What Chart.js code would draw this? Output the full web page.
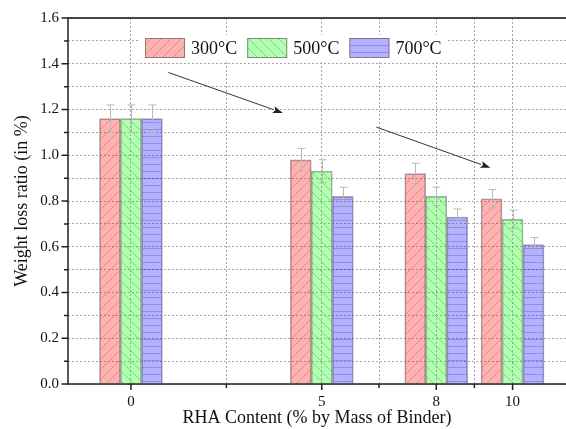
<!DOCTYPE html>
<html><head><meta charset="utf-8">
<script src="https://cdn.jsdelivr.net/npm/chart.js@4/dist/chart.umd.min.js"></script>
<style>html,body{margin:0;padding:0;background:#fff}</style>
</head><body>
<canvas id="c" width="566" height="429"></canvas>
<script>
// ---- data ----
const rhaContent = [0, 5, 8, 10];
const seriesNames = ['300°C', '500°C', '700°C'];
const loss300 = [1.16, 0.98, 0.92, 0.81];
const loss500 = [1.16, 0.93, 0.82, 0.72];
const loss700 = [1.16, 0.82, 0.73, 0.61];
const err300 = [0.06, 0.05, 0.045, 0.04];
const err500 = [0.06, 0.05, 0.04, 0.04];
const err700 = [0.06, 0.04, 0.035, 0.03];
const xMajorTicks = [0, 5, 8, 10];
const xMinorTicks = [2.5, 6.5, 9];
const yTickValues = [0, 0.1, 0.2, 0.3, 0.4, 0.5, 0.6, 0.7, 0.8, 0.9, 1.0, 1.1, 1.2, 1.3, 1.4, 1.5, 1.6];
const yMajorTicks = [0, 0.2, 0.4, 0.6, 0.8, 1.0, 1.2, 1.4, 1.6];
const trendArrowsFrom = [[0.98, 1.362], [6.43, 1.123]];
const trendArrowsTo = [[3.98, 1.185], [9.42, 0.945]];

const SERIF = '"Liberation Serif", "Times New Roman", serif';

function makePattern(fill, line, kind) {
  const s = kind === 'h' ? 7 : 10;
  const c = document.createElement('canvas');
  c.width = s; c.height = s;
  const g = c.getContext('2d');
  g.fillStyle = fill; g.fillRect(0, 0, s, s);
  g.strokeStyle = line; g.lineWidth = 1;
  g.beginPath();
  if (kind === '/') {
    g.moveTo(-1, s + 1); g.lineTo(s + 1, -1);
    g.moveTo(-1, 1); g.lineTo(1, -1);
    g.moveTo(s - 1, s + 1); g.lineTo(s + 1, s - 1);
  } else if (kind === '\\') {
    g.moveTo(-1, -1); g.lineTo(s + 1, s + 1);
    g.moveTo(s - 1, -1); g.lineTo(s + 1, 1);
    g.moveTo(-1, s - 1); g.lineTo(1, s + 1);
  } else {
    g.moveTo(0, 3.5); g.lineTo(s, 3.5);
  }
  g.stroke();
  return g.createPattern(c, 'repeat');
}
const patterns = [
  makePattern('rgba(255,0,0,0.3)', 'rgba(190,40,40,0.3)', '/'),
  makePattern('rgba(0,255,0,0.3)', 'rgba(40,140,40,0.35)', '\\'),
  makePattern('rgba(0,0,255,0.3)', 'rgba(60,60,190,0.3)', 'h')
];
const values = [loss300, loss500, loss700];
const errors = [err300, err500, err700];

const datasets = values.map((vals, k) => ({
  label: seriesNames[k],
  data: rhaContent.map((x, i) => ({ x: x, y: vals[i] })),
  backgroundColor: patterns[k],
  borderColor: 'rgba(100,100,100,0.55)',
  borderWidth: 1,
  barThickness: 21,
  errs: errors[k]
}));

const errorBarPlugin = {
  id: 'errorBars',
  afterDatasetsDraw(chart) {
    const ctx = chart.ctx, y = chart.scales.y;
    ctx.save();
    ctx.strokeStyle = '#b8b8b8';
    ctx.lineWidth = 1;
    chart.data.datasets.forEach((ds, k) => {
      const meta = chart.getDatasetMeta(k);
      meta.data.forEach((bar, i) => {
        const v = ds.data[i].y, e = ds.errs[i];
        const x = Math.round(bar.x) + 0.5;
        const yt = y.getPixelForValue(v + e), yb = y.getPixelForValue(v - e);
        ctx.beginPath();
        ctx.moveTo(x, yt); ctx.lineTo(x, yb);
        ctx.moveTo(x - 4, yt); ctx.lineTo(x + 4, yt);
        ctx.moveTo(x - 4, yb); ctx.lineTo(x + 4, yb);
        ctx.stroke();
      });
    });
    ctx.restore();
  }
};

const framePlugin = {
  id: 'frame',
  afterDatasetsDraw(chart) {
    const ctx = chart.ctx, a = chart.chartArea, xs = chart.scales.x, ys = chart.scales.y;
    ctx.save();
    ctx.strokeStyle = '#222';
    ctx.lineWidth = 1.5;
    ctx.beginPath();
    xMajorTicks.forEach(v => { const p = xs.getPixelForValue(v); ctx.moveTo(p, a.bottom); ctx.lineTo(p, a.bottom + 6); });
    xMinorTicks.forEach(v => { const p = xs.getPixelForValue(v); ctx.moveTo(p, a.bottom); ctx.lineTo(p, a.bottom + 4); });
    yTickValues.forEach(v => {
      const p = ys.getPixelForValue(v);
      const len = yMajorTicks.some(m => Math.abs(m - v) < 1e-9) ? 6.5 : 4;
      ctx.moveTo(a.left - len, p); ctx.lineTo(a.left, p);
    });
    ctx.stroke();
    ctx.beginPath();
    ctx.moveTo(a.left, a.top - 1); ctx.lineTo(a.left, a.bottom);
    ctx.lineTo(a.right, a.bottom);
    ctx.stroke();
    ctx.strokeStyle = '#444';
    ctx.lineWidth = 2;
    ctx.beginPath();
    ctx.moveTo(a.left, a.top); ctx.lineTo(a.right, a.top);
    ctx.stroke();
    ctx.restore();
  }
};

const arrowPlugin = {
  id: 'arrows',
  afterDatasetsDraw(chart) {
    const ctx = chart.ctx, xs = chart.scales.x, ys = chart.scales.y;
    ctx.save();
    ctx.strokeStyle = '#333'; ctx.fillStyle = '#222'; ctx.lineWidth = 1;
    trendArrowsFrom.forEach((f, i) => {
      const t = trendArrowsTo[i];
      const x1 = xs.getPixelForValue(f[0]), y1 = ys.getPixelForValue(f[1]);
      const x2 = xs.getPixelForValue(t[0]), y2 = ys.getPixelForValue(t[1]);
      const ang = Math.atan2(y2 - y1, x2 - x1);
      const L = 10, W = 3.5;
      const bx = x2 - L * Math.cos(ang), by = y2 - L * Math.sin(ang);
      ctx.beginPath(); ctx.moveTo(x1, y1); ctx.lineTo(bx, by); ctx.stroke();
      ctx.beginPath();
      ctx.moveTo(x2, y2);
      ctx.lineTo(bx - W * Math.sin(ang), by + W * Math.cos(ang));
      ctx.lineTo(bx + 2 * Math.cos(ang), by + 2 * Math.sin(ang));
      ctx.lineTo(bx + W * Math.sin(ang), by - W * Math.cos(ang));
      ctx.closePath(); ctx.fill();
    });
    ctx.restore();
  }
};

const legendPlugin = {
  id: 'innerLegend',
  afterDraw(chart) {
    const ctx = chart.ctx, a = chart.chartArea;
    ctx.save();
    ctx.font = '18px ' + SERIF;
    const bw = 40, bh = 20, gap = 6, itemGap = 10;
    let x = a.left + 77;
    const y = a.top + 20;
    const widths = seriesNames.map(n => ctx.measureText(n).width);
    const total = widths.reduce((s, w) => s + bw + gap + w, 0) + itemGap * (seriesNames.length - 1);
    ctx.fillStyle = '#fff';
    ctx.fillRect(x - 6, y - 3, total + 12, bh + 6);
    seriesNames.forEach((n, k) => {
      ctx.fillStyle = patterns[k];
      ctx.fillRect(x, y, bw, bh);
      ctx.strokeStyle = 'rgba(110,110,110,0.8)';
      ctx.lineWidth = 1;
      ctx.strokeRect(x + 0.5, y + 0.5, bw - 1, bh - 1);
      ctx.fillStyle = '#111';
      ctx.textBaseline = 'middle';
      ctx.textAlign = 'left';
      ctx.fillText(n, x + bw + gap, y + bh / 2 + 1);
      x += bw + gap + widths[k] + itemGap;
    });
    ctx.restore();
  }
};

new Chart(document.getElementById('c'), {
  type: 'bar',
  data: { datasets: datasets },
  plugins: [errorBarPlugin, arrowPlugin, framePlugin, legendPlugin],
  options: {
    responsive: false,
    animation: false,
    devicePixelRatio: 1,
    layout: { padding: { top: 15, right: 0, left: 0, bottom: 0 } },
    plugins: { legend: { display: false }, tooltip: { enabled: false } },
    scales: {
      x: {
        type: 'linear',
        offset: false,
        min: -1.65,
        max: 11.4,
        afterBuildTicks: s => { s.ticks = xMajorTicks.concat(xMinorTicks).sort((p, q) => p - q).map(v => ({ value: v })); },
        afterFit: s => { s.height = 45; },
        ticks: {
          autoSkip: false, maxRotation: 0, padding: 9, color: '#111',
          font: { family: SERIF, size: 15 },
          callback: v => xMajorTicks.includes(v) ? String(v) : ''
        },
        grid: { offset: false, color: '#a8a8a8', lineWidth: 1, drawTicks: false },
        border: { display: false, dash: [2, 2] },
        title: { display: true, text: 'RHA Content (% by Mass of Binder)', color: '#111',
                 font: { family: SERIF, size: 18 }, padding: { top: 0, bottom: 0 } }
      },
      y: {
        type: 'linear',
        min: 0, max: 1.6,
        afterBuildTicks: s => { s.ticks = yTickValues.map(v => ({ value: v })); },
        afterFit: s => { s.width = 68; },
        ticks: {
          padding: 9, color: '#111',
          font: { family: SERIF, size: 15 },
          callback: v => (Math.round(v * 10) % 2 === 0) ? v.toFixed(1) : ''
        },
        grid: { color: '#a8a8a8', lineWidth: 1, drawTicks: false },
        border: { display: false, dash: [2, 2] },
        title: { display: true, text: 'Weight loss ratio (in %)', color: '#111',
                 font: { family: SERIF, size: 18 }, padding: { top: 11, bottom: 0 } }
      }
    }
  }
});
</script>
</body></html>
